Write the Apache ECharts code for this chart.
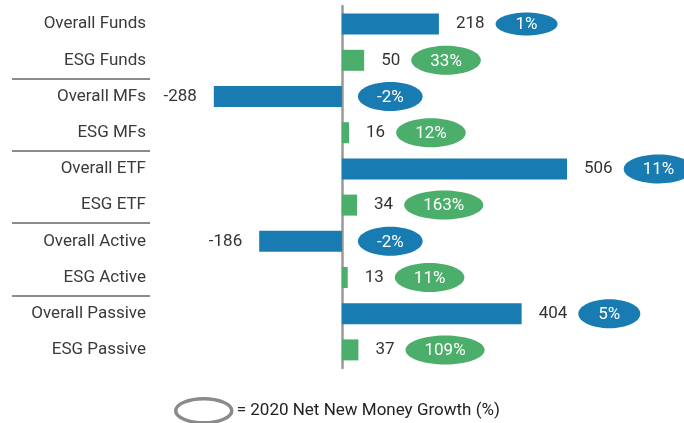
<!DOCTYPE html>
<html>
<head>
<meta charset="utf-8">
<script src="https://cdn.jsdelivr.net/npm/echarts@6/dist/echarts.min.js"></script>
<style>
  html, body { margin: 0; padding: 0; background: #fff; }
  #chart { width: 684px; height: 423px; }
</style>
</head>
<body>
<div id="chart"></div>
<script>
// data
const categories = ['Overall Funds', 'ESG Funds', 'Overall MFs', 'ESG MFs', 'Overall ETF',
    'ESG ETF', 'Overall Active', 'ESG Active', 'Overall Passive', 'ESG Passive'];
const flows = [218, 50, -288, 16, 506, 34, -186, 13, 404, 37];
const growth = [1, 33, -2, 12, 11, 163, -2, 11, 5, 109];
const groupBreaks = [2, 4, 6, 8]; // a rule above these rows
const legendName = '= 2020 Net New Money Growth (%)';

const BLUE = '#187cb3';
const GREEN = '#4cae6b';

const FAMILY = 'Roboto';
const FS = 17;
const FONT = FS + 'px ' + FAMILY;

const probe = document.createElement('canvas').getContext('2d');
function textWidth(s) {
    probe.font = FONT;
    return probe.measureText(s).width;
}

const LABEL_GAP = 17;

const barData = flows.map((v, i) => ({
    value: v,
    itemStyle: { color: i % 2 === 0 ? BLUE : GREEN },
    label: { position: v < 0 ? 'left' : 'right' }
}));

// growth badges sit after the value label (or just right of zero for outflows)
function renderBadge(params, api) {
    const i = params.dataIndex;
    const v = api.value(0);
    const end = api.coord([v, i]);
    const zero = api.coord([0, i]);
    const txt = growth[i] + '%';
    const w = Math.max(62, textWidth(txt) + 38);
    const h = i === 0 ? 23 : 29;
    let left;
    if (v < 0) {
        left = zero[0] + 16;
    } else {
        left = end[0] + LABEL_GAP + textWidth(String(v)) + 11;
    }
    const cx = left + w / 2;
    const cy = end[1];
    return {
        type: 'group',
        children: [{
            type: 'ellipse',
            shape: { cx: cx, cy: cy, rx: w / 2, ry: h / 2 },
            style: { fill: i % 2 === 0 ? BLUE : GREEN }
        }, {
            type: 'text',
            style: {
                text: txt, x: cx, y: cy + 1, align: 'center', verticalAlign: 'middle',
                fill: '#fff', font: FONT
            }
        }]
    };
}

const options = {
    animation: false,
    grid: { left: 164, right: 4, top: 6, bottom: 55 },
    xAxis: {
        type: 'value',
        min: -400,
        max: 760,
        show: false
    },
    yAxis: [{
        type: 'category',
        data: categories,
        inverse: true,
        axisLine: { show: false, onZero: false },
        axisTick: { show: false },
        axisLabel: { margin: 18, color: '#3a3a3a', fontSize: FS, fontFamily: FAMILY }
    }, {
        // the zero line
        type: 'category',
        data: categories,
        inverse: true,
        axisLine: { show: true, onZero: true, lineStyle: { color: '#999', width: 2.5 } },
        axisTick: { show: false },
        axisLabel: { show: false }
    }, {
        // group separators on the left
        type: 'value',
        inverse: true,
        min: 0,
        max: categories.length,
        position: 'left',
        offset: 14,
        axisLine: { show: false, onZero: false },
        axisLabel: { show: false },
        splitLine: { show: false },
        axisTick: {
            show: true,
            length: 138,
            customValues: groupBreaks,
            lineStyle: { color: '#8c8c8c', width: 2 }
        }
    }],
    legend: {
        left: 174,
        top: 397,
        padding: 0,
        itemWidth: 56,
        itemHeight: 24,
        selectedMode: false,
        textStyle: { color: '#222', fontSize: FS, fontFamily: FAMILY },
        data: [{
            name: legendName,
            icon: 'path://M0,12 A28,12 0 1,1 56,12 A28,12 0 1,1 0,12 Z',
            itemStyle: { color: 'rgba(0,0,0,0)', borderColor: '#8a8a8a', borderWidth: 3.5 }
        }]
    },
    series: [{
        type: 'bar',
        barWidth: 21,
        data: barData,
        label: {
            show: true,
            distance: LABEL_GAP,
            color: '#333',
            fontSize: FS,
            fontFamily: FAMILY
        }
    }, {
        name: legendName,
        type: 'custom',
        z: 3,
        data: flows.map((v, i) => [v, i]),
        encode: { x: 0, y: 1 },
        renderItem: renderBadge
    }]
};

const E = echarts.init(document.getElementById('chart'));
window.onresize = function () {
    E.resize();
};
E.setOption(options);
</script>
</body>
</html>
